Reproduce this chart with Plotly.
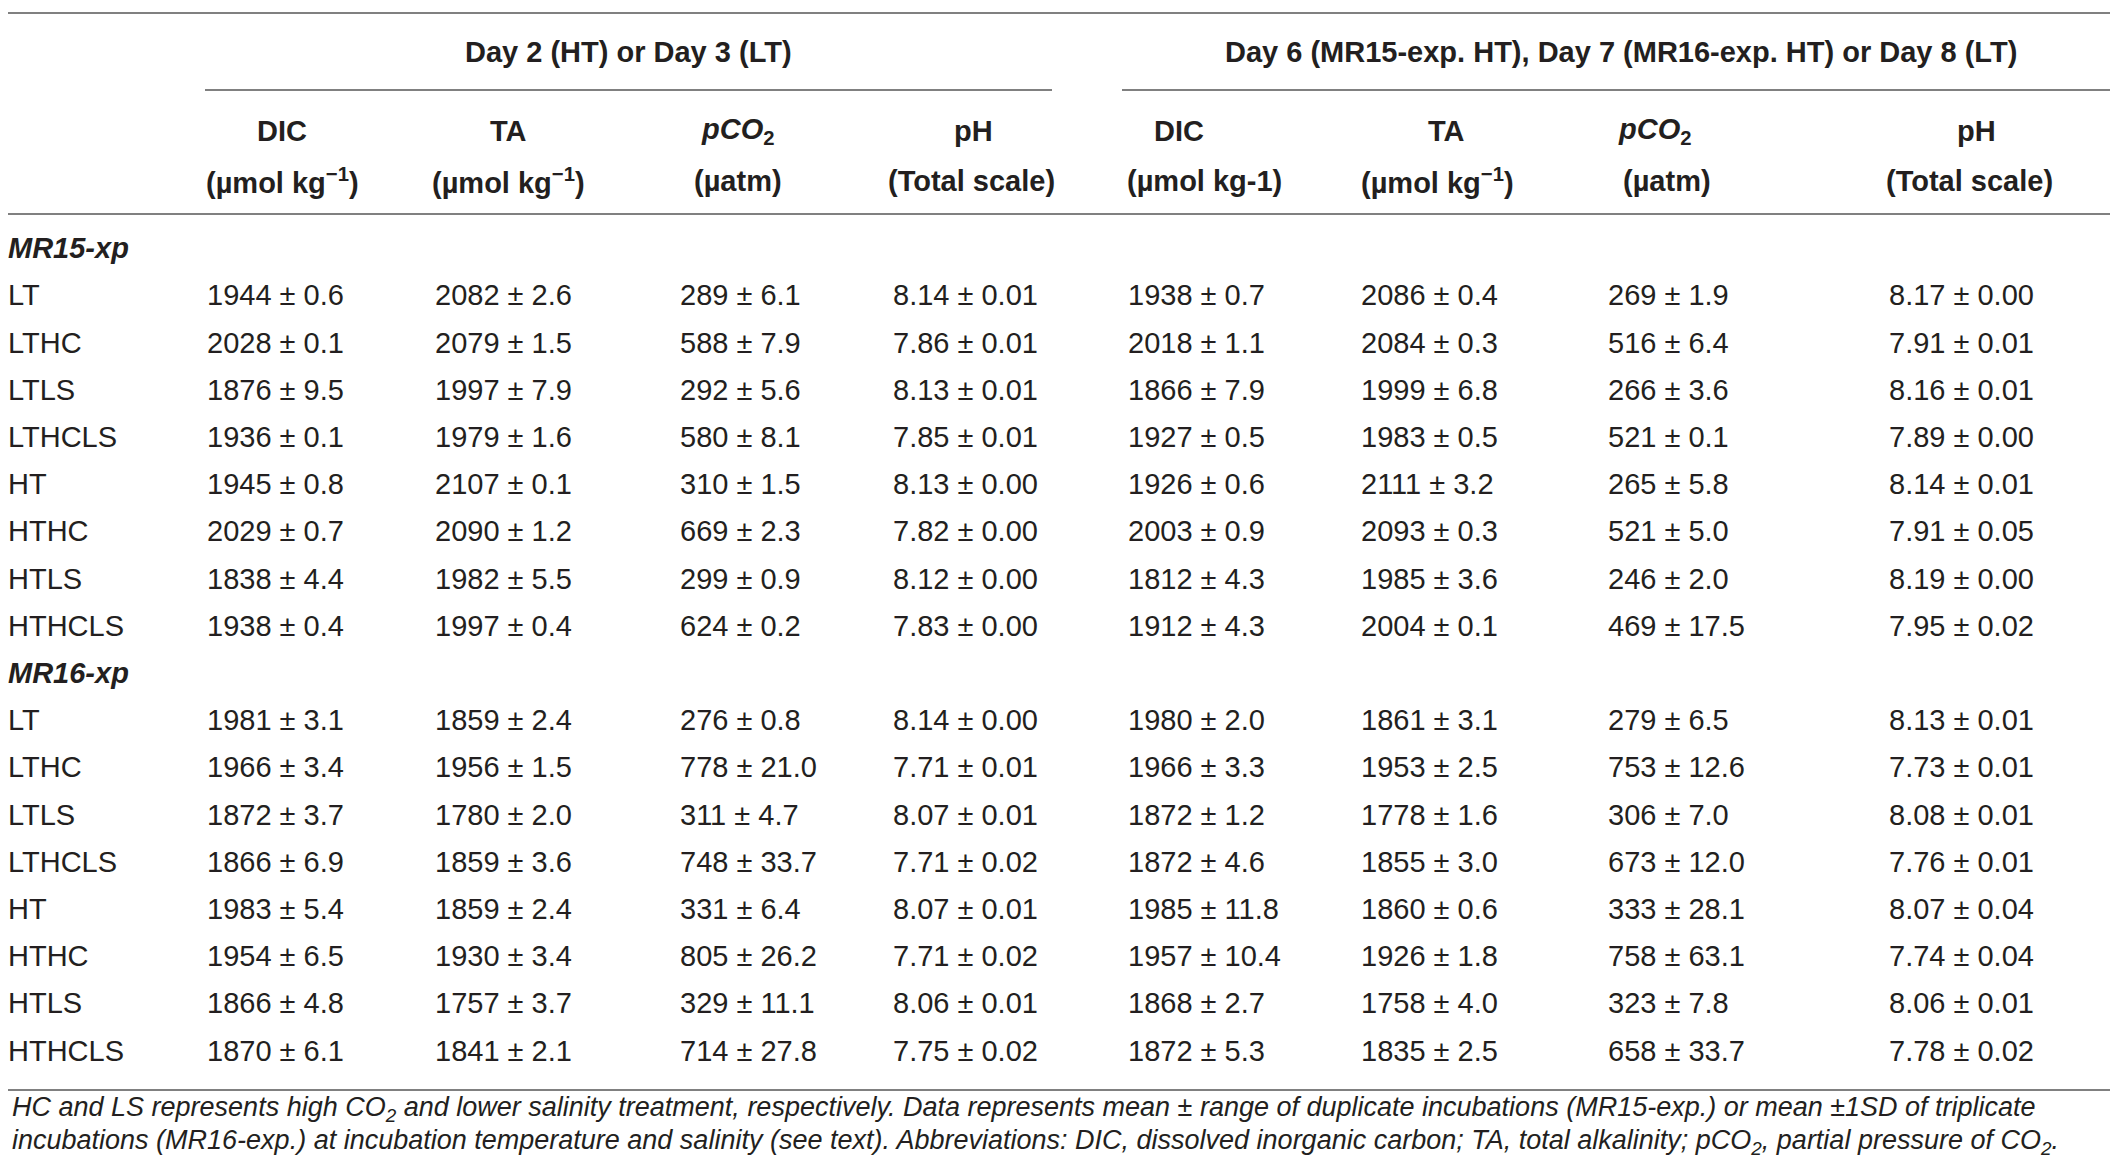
import plotly.graph_objects as go


# Treatment rows (same for both experiments)
TREATMENTS = ["LT", "LTHC", "LTLS", "LTHCLS", "HT", "HTHC", "HTLS", "HTHCLS"]
EXPERIMENTS = ["MR15-xp", "MR16-xp"]

# MR15-xp, Day 2 (HT) or Day 3 (LT): (mean, +/-)
MR15_EARLY_DIC = [(1944, 0.6), (2028, 0.1), (1876, 9.5), (1936, 0.1), (1945, 0.8), (2029, 0.7), (1838, 4.4), (1938, 0.4)]
MR15_EARLY_TA = [(2082, 2.6), (2079, 1.5), (1997, 7.9), (1979, 1.6), (2107, 0.1), (2090, 1.2), (1982, 5.5), (1997, 0.4)]
MR15_EARLY_PCO2 = [(289, 6.1), (588, 7.9), (292, 5.6), (580, 8.1), (310, 1.5), (669, 2.3), (299, 0.9), (624, 0.2)]
MR15_EARLY_PH = [(8.14, 0.01), (7.86, 0.01), (8.13, 0.01), (7.85, 0.01), (8.13, 0.00), (7.82, 0.00), (8.12, 0.00), (7.83, 0.00)]

# MR15-xp, Day 6 / Day 8
MR15_LATE_DIC = [(1938, 0.7), (2018, 1.1), (1866, 7.9), (1927, 0.5), (1926, 0.6), (2003, 0.9), (1812, 4.3), (1912, 4.3)]
MR15_LATE_TA = [(2086, 0.4), (2084, 0.3), (1999, 6.8), (1983, 0.5), (2111, 3.2), (2093, 0.3), (1985, 3.6), (2004, 0.1)]
MR15_LATE_PCO2 = [(269, 1.9), (516, 6.4), (266, 3.6), (521, 0.1), (265, 5.8), (521, 5.0), (246, 2.0), (469, 17.5)]
MR15_LATE_PH = [(8.17, 0.00), (7.91, 0.01), (8.16, 0.01), (7.89, 0.00), (8.14, 0.01), (7.91, 0.05), (8.19, 0.00), (7.95, 0.02)]

# MR16-xp, Day 2 (HT) or Day 3 (LT)
MR16_EARLY_DIC = [(1981, 3.1), (1966, 3.4), (1872, 3.7), (1866, 6.9), (1983, 5.4), (1954, 6.5), (1866, 4.8), (1870, 6.1)]
MR16_EARLY_TA = [(1859, 2.4), (1956, 1.5), (1780, 2.0), (1859, 3.6), (1859, 2.4), (1930, 3.4), (1757, 3.7), (1841, 2.1)]
MR16_EARLY_PCO2 = [(276, 0.8), (778, 21.0), (311, 4.7), (748, 33.7), (331, 6.4), (805, 26.2), (329, 11.1), (714, 27.8)]
MR16_EARLY_PH = [(8.14, 0.00), (7.71, 0.01), (8.07, 0.01), (7.71, 0.02), (8.07, 0.01), (7.71, 0.02), (8.06, 0.01), (7.75, 0.02)]

# MR16-xp, Day 7 / Day 8
MR16_LATE_DIC = [(1980, 2.0), (1966, 3.3), (1872, 1.2), (1872, 4.6), (1985, 11.8), (1957, 10.4), (1868, 2.7), (1872, 5.3)]
MR16_LATE_TA = [(1861, 3.1), (1953, 2.5), (1778, 1.6), (1855, 3.0), (1860, 0.6), (1926, 1.8), (1758, 4.0), (1835, 2.5)]
MR16_LATE_PCO2 = [(279, 6.5), (753, 12.6), (306, 7.0), (673, 12.0), (333, 28.1), (758, 63.1), (323, 7.8), (658, 33.7)]
MR16_LATE_PH = [(8.13, 0.01), (7.73, 0.01), (8.08, 0.01), (7.76, 0.01), (8.07, 0.04), (7.74, 0.04), (8.06, 0.01), (7.78, 0.02)]

GROUP_HEADERS = ["Day 2 (HT) or Day 3 (LT)",
                 "Day 6 (MR15-exp. HT), Day 7 (MR16-exp. HT) or Day 8 (LT)"]
COL_NAMES = ["DIC", "TA", "<i>pCO</i><sub>2</sub>", "pH"] * 2
COL_UNITS = ["(µmol kg<sup>−1</sup>)", "(µmol kg<sup>−1</sup>)", "(µatm)", "(Total scale)",
             "(µmol kg-1)", "(µmol kg<sup>−1</sup>)", "(µatm)", "(Total scale)"]
FOOTNOTE = [
    "HC and LS represents high CO<sub>2</sub> and lower salinity treatment, respectively. "
    "Data represents mean ± range of duplicate incubations (MR15-exp.) or mean ±1SD of triplicate",
    "incubations (MR16-exp.) at incubation temperature and salinity (see text). Abbreviations: "
    "DIC, dissolved inorganic carbon; TA, total alkalinity; pCO<sub>2</sub>, partial pressure of CO<sub>2</sub>.",
]

# layout (axis units = pixels)
W, H = 2118, 1167
FIRST_ROW_Y = 243
ROW_STEP = 47.2
LABEL_X = 0
DATA_X = [199, 427, 672, 885, 1120, 1353, 1600, 1881]
NAME_X = [274, 500, 730, 965, 1171, 1438, 1647, 1968]
UNIT_X = [274, 500, 730, 963, 1196, 1429, 1659, 1961]
GROUP_X = [620, 1613]
FOOT_Y = [1101, 1134]
TEXT = "#231f20"
RULE = "#808080"
FONT = "Liberation Sans, Arial, sans-serif"


def fmt(pair, digits):
    m, e = pair
    if digits == 2:
        return f"{m:.2f} ± {e:.2f}"
    return f"{m:.0f} ± {e:.1f}"


columns = [
    (MR15_EARLY_DIC, MR16_EARLY_DIC, 1),
    (MR15_EARLY_TA, MR16_EARLY_TA, 1),
    (MR15_EARLY_PCO2, MR16_EARLY_PCO2, 1),
    (MR15_EARLY_PH, MR16_EARLY_PH, 2),
    (MR15_LATE_DIC, MR16_LATE_DIC, 1),
    (MR15_LATE_TA, MR16_LATE_TA, 1),
    (MR15_LATE_PCO2, MR16_LATE_PCO2, 1),
    (MR15_LATE_PH, MR16_LATE_PH, 2),
]

n = len(TREATMENTS)
row_y = [FIRST_ROW_Y + i * ROW_STEP for i in range(2 * (n + 1))]
data_y = row_y[1:n + 1] + row_y[n + 2:]

fig = go.Figure()

# experiment labels
fig.add_trace(go.Scatter(
    x=[LABEL_X] * 2, y=[row_y[0], row_y[n + 1]],
    text=[f"<b><i>{e}</i></b>" for e in EXPERIMENTS],
    mode="text", textposition="middle right", cliponaxis=False,
    textfont=dict(family=FONT, size=29, color=TEXT),
    hoverinfo="skip", showlegend=False,
))
# treatment labels
fig.add_trace(go.Scatter(
    x=[LABEL_X] * (2 * n), y=data_y, text=TREATMENTS * 2,
    mode="text", textposition="middle right", cliponaxis=False,
    textfont=dict(family=FONT, size=29, color=TEXT),
    hoverinfo="skip", showlegend=False,
))
# value cells
for cx, (a, b, digits) in zip(DATA_X, columns):
    fig.add_trace(go.Scatter(
        x=[cx] * (2 * n), y=data_y,
        text=[fmt(p, digits) for p in a + b],
        mode="text", textposition="middle right", cliponaxis=False,
        textfont=dict(family=FONT, size=29, color=TEXT),
        hoverinfo="skip", showlegend=False,
    ))

hdr_font = dict(family=FONT, size=29, color=TEXT)
for gx, g in zip(GROUP_X, GROUP_HEADERS):
    fig.add_annotation(x=gx, y=44, text=f"<b>{g}</b>", showarrow=False,
                       xanchor="center", yanchor="middle", font=hdr_font)
for x, t in zip(NAME_X, COL_NAMES):
    fig.add_annotation(x=x, y=123, text=f"<b>{t}</b>", showarrow=False,
                       xanchor="center", yanchor="middle", font=hdr_font)
for x, t in zip(UNIT_X, COL_UNITS):
    fig.add_annotation(x=x, y=173, text=f"<b>{t}</b>", showarrow=False,
                       xanchor="center", yanchor="middle", font=hdr_font)
for y, t in zip(FOOT_Y, FOOTNOTE):
    fig.add_annotation(x=2, y=y, text=f"<i>{t}</i>", showarrow=False,
                       xanchor="left", yanchor="middle",
                       font=dict(family=FONT, size=27, color=TEXT))

rules = [(0, W, 5), (197, 1044, 82), (1114, W, 82), (0, W, 206), (0, W, 1082)]
for x0, x1, y in rules:
    fig.add_shape(type="line", x0=x0, x1=x1, y0=y, y1=y,
                  line=dict(color=RULE, width=2))

fig.update_xaxes(range=[0, W], visible=False, fixedrange=True)
fig.update_yaxes(range=[H, 0], visible=False, fixedrange=True)
fig.update_layout(
    width=W, height=H,
    margin=dict(l=0, r=0, t=0, b=0),
    plot_bgcolor="white", paper_bgcolor="white",
)

fig.write_html("out.html")
